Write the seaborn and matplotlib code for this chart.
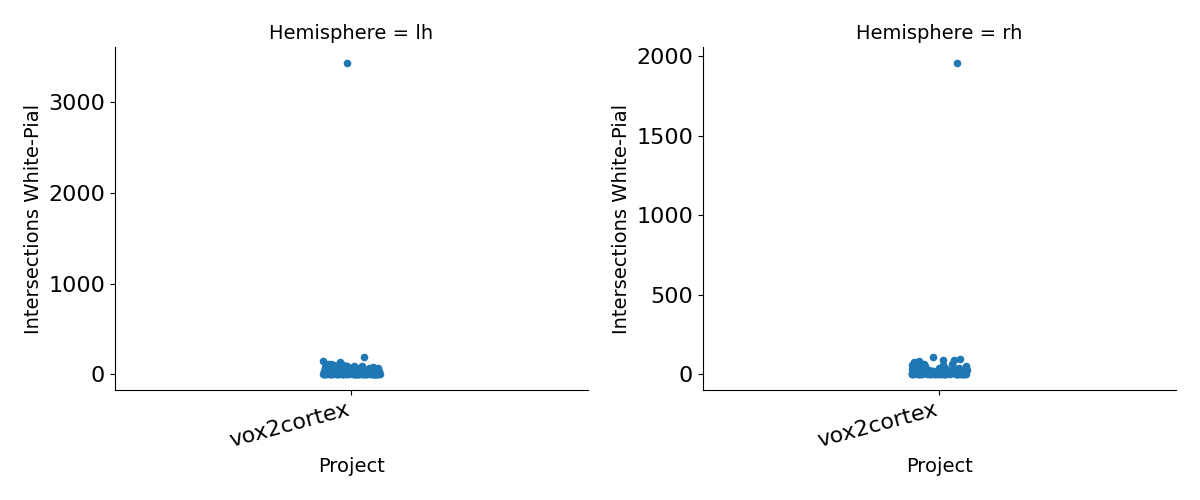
import numpy as np
import pandas as pd
import seaborn as sns
import matplotlib
matplotlib.use("Agg")
import matplotlib.pyplot as plt

project = "vox2cortex"
lh_values = [3430, 195, 150, 140, 120, 110, 105, 100, 98, 95, 92, 90, 88, 86, 85, 82, 80, 78,
             76, 75, 72, 70, 68, 66, 65, 62, 60, 58, 56, 55, 52, 50, 48, 46, 45, 44, 42, 40,
             39, 38, 36, 35, 34, 33, 32, 30, 29, 28, 27, 26, 25, 24, 23, 22, 21, 20, 20, 19,
             18, 18, 17, 16, 16, 15, 15, 14, 14, 13, 13, 12, 12, 12, 11, 11, 10, 10, 10, 9,
             9, 9, 8, 8, 8, 7, 7, 7, 6, 6, 6, 6, 5, 5, 5, 5, 4, 4, 4, 4, 3, 3, 3, 3, 3, 2,
             2, 2, 2, 2, 2, 1, 1, 1, 1, 1, 1, 1, 0, 0, 0, 0, 0, 0, 0, 0, 0, 0, 0, 0, 0, 0,
             0, 0, 0, 0, 0, 0]
rh_values = [1960, 110, 95, 92, 90, 85, 80, 75, 72, 70, 68, 65, 62, 60, 58, 56, 55, 52, 50,
             48, 46, 45, 42, 40, 39, 38, 36, 35, 34, 33, 32, 30, 29, 28, 27, 26, 25, 24, 23,
             22, 21, 20, 20, 19, 18, 18, 17, 16, 16, 15, 15, 14, 14, 13, 13, 12, 12, 11, 11,
             10, 10, 10, 9, 9, 9, 8, 8, 8, 7, 7, 7, 6, 6, 6, 5, 5, 5, 5, 4, 4, 4, 4, 3, 3,
             3, 3, 2, 2, 2, 2, 2, 1, 1, 1, 1, 1, 1, 0, 0, 0, 0, 0, 0, 0, 0, 0, 0, 0, 0, 0,
             0, 0, 0, 0]
hemispheres = ["lh", "rh"]

df = pd.DataFrame({
    "Project": [project] * (len(lh_values) + len(rh_values)),
    "Hemisphere": ["lh"] * len(lh_values) + ["rh"] * len(rh_values),
    "Intersections White-Pial": lh_values + rh_values,
})

np.random.seed(1)
g = sns.catplot(data=df, x="Project", y="Intersections White-Pial", col="Hemisphere",
                col_order=hemispheres, kind="strip", sharey=False, height=5, aspect=1.2,
                color="#1f77b4", jitter=0.06, s=30)
g.set_titles("Hemisphere = {col_name}", size=14)
for ax in g.axes.flat:
    ax.tick_params(axis="both", labelsize=16)
    ax.set_xlabel("Project", fontsize=14)
    ax.set_ylabel("Intersections White-Pial", fontsize=14)
    for lab in ax.get_xticklabels():
        lab.set_rotation(15)
        lab.set_ha("right")
    ax.yaxis.set_tick_params(labelleft=True)
g.figure.set_size_inches(12, 5)
g.figure.subplots_adjust(left=0.0958, right=0.98, top=0.906, bottom=0.22, wspace=0.243)
g.figure.savefig("out.png", dpi=100)
